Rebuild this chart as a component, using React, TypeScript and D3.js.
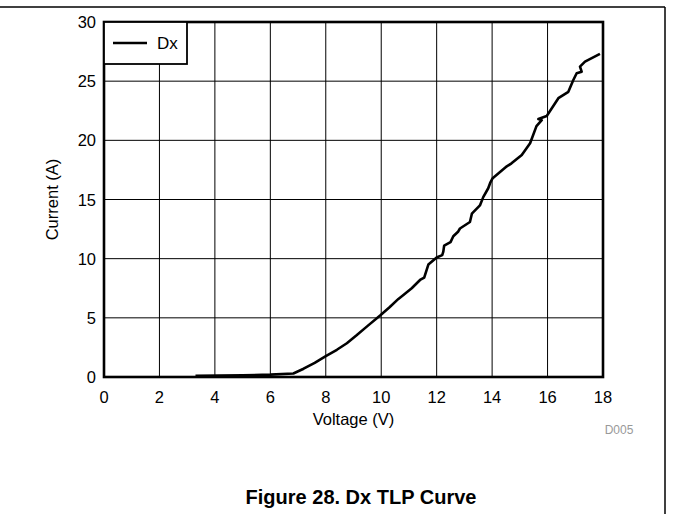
import React from "react";
import * as d3 from "d3";

const voltage = [3.3, 5.0, 6.0, 6.83, 7.2, 7.6, 8.0, 8.4, 8.76, 9.1, 9.5, 9.96, 10.3, 10.62, 10.8, 11.1, 11.4, 11.55, 11.7, 11.85, 12.0, 12.2, 12.24, 12.27, 12.5, 12.6, 12.78, 12.84, 13.2, 13.27, 13.56, 13.68, 13.86, 13.93, 14.02, 14.53, 14.7, 15.07, 15.37, 15.6, 15.79, 15.67, 15.97, 16.39, 16.75, 16.93, 17.05, 17.23, 17.17, 17.35, 17.89];
const current = [0.1, 0.15, 0.2, 0.3, 0.7, 1.2, 1.77, 2.3, 2.85, 3.5, 4.3, 5.2, 5.9, 6.6, 6.93, 7.5, 8.2, 8.4, 9.5, 9.8, 10.1, 10.3, 10.6, 11.1, 11.4, 11.9, 12.3, 12.55, 13.1, 13.8, 14.5, 15.2, 15.95, 16.4, 16.8, 17.8, 18.06, 18.77, 19.75, 21.2, 21.7, 21.8, 22.06, 23.56, 24.1, 25.1, 25.67, 25.8, 26.23, 26.65, 27.3];
const xTicks = [0, 2, 4, 6, 8, 10, 12, 14, 16, 18];
const yTicks = [0, 5, 10, 15, 20, 25, 30];
const seriesName = "Dx";

const W = 673, H = 514;
const L = 104, R = 603, T = 22, B = 377;
const font = "'Liberation Sans', Arial, sans-serif";

export default function App() {
  const x = d3.scaleLinear().domain([0, 18]).range([L, R]);
  const y = d3.scaleLinear().domain([0, 30]).range([B, T]);
  const pts = voltage.map((v, i) => [v, current[i]] as [number, number]);
  const line = d3.line<[number, number]>().x(d => x(d[0])).y(d => y(d[1]));
  return (
    <svg width={W} height={H} style={{ position: "absolute", left: 0, top: 0, background: "#fff" }}>
      <line x1={0} x2={665} y1={7} y2={7} stroke="#000" strokeWidth={1.5} />
      <line x1={665} x2={665} y1={7} y2={H} stroke="#000" strokeWidth={1.5} />
      {xTicks.slice(1, -1).map(t => (
        <line key={"gx" + t} x1={x(t)} x2={x(t)} y1={T} y2={B} stroke="#000" strokeWidth={1} />
      ))}
      {yTicks.slice(1, -1).map(t => (
        <line key={"gy" + t} x1={L} x2={R} y1={y(t)} y2={y(t)} stroke="#000" strokeWidth={1} />
      ))}
      <path d={line(pts) || ""} fill="none" stroke="#000" strokeWidth={2.6} strokeLinejoin="round" />
      <rect x={L} y={T} width={R - L} height={B - T} fill="none" stroke="#000" strokeWidth={2.6} />
      <rect x={L} y={T} width={83} height={42} fill="#fff" stroke="#000" strokeWidth={1.8} />
      <line x1={113} x2={147} y1={43} y2={43} stroke="#000" strokeWidth={2.6} />
      <text x={157} y={49} fontFamily={font} fontSize={17}>{seriesName}</text>
      {xTicks.map(t => (
        <text key={"xt" + t} x={x(t)} y={403} textAnchor="middle" fontFamily={font} fontSize={16.5}>{t}</text>
      ))}
      {yTicks.map(t => (
        <text key={"yt" + t} x={96} y={y(t) + 6} textAnchor="end" fontFamily={font} fontSize={16.5}>{t}</text>
      ))}
      <text x={(L + R) / 2} y={425} textAnchor="middle" fontFamily={font} fontSize={16.5}>Voltage (V)</text>
      <text transform={`translate(58,${(T + B) / 2}) rotate(-90)`} textAnchor="middle" fontFamily={font} fontSize={16.5}>Current (A)</text>
      <text x={619} y={434} textAnchor="middle" fontFamily={font} fontSize={12} fill="#999">D005</text>
      <text x={361} y={504} textAnchor="middle" fontFamily={font} fontSize={20} fontWeight="bold">Figure 28. Dx TLP Curve</text>
    </svg>
  );
}
